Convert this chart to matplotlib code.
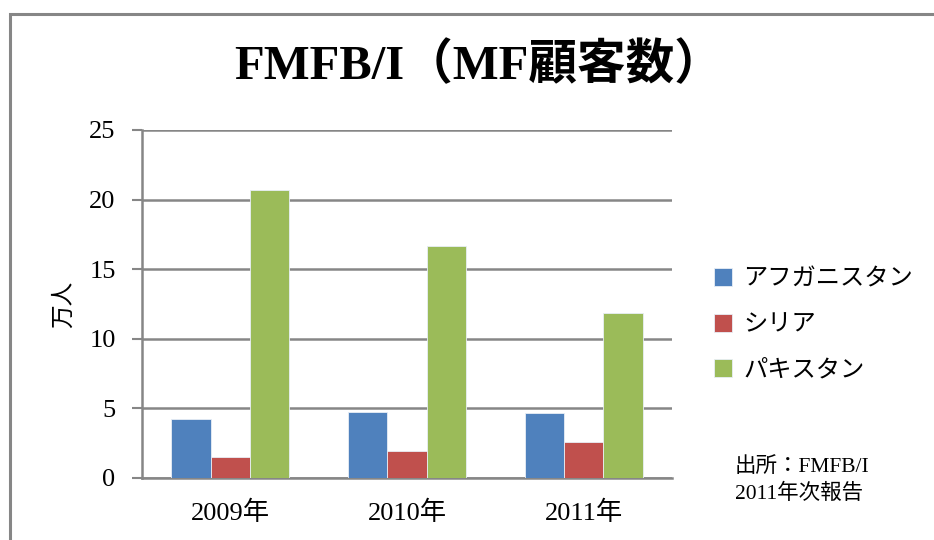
import matplotlib.pyplot as plt
import numpy as np
from matplotlib.patches import Rectangle

plt.rcParams['font.family'] = ['Liberation Serif', 'Noto Sans CJK JP', 'DejaVu Sans']

# データ（単位：万人）
years = ['2009年', '2010年', '2011年']
afghanistan = [4.25, 4.73, 4.7]
syria = [1.52, 1.94, 2.6]
pakistan = [20.7, 16.67, 11.87]
series_names = ['アフガニスタン', 'シリア', 'パキスタン']
colors = ['#4F81BD', '#C0504D', '#9BBB59']
grid_color = '#868686'

fig = plt.figure(figsize=(9.34, 5.40), dpi=100)
ax = fig.add_axes([142/934, 1 - 478/540, 530/934, 348/540])

x = np.arange(len(years))
w = 1 / 4.5
for i, (vals, name, c) in enumerate(zip([afghanistan, syria, pakistan], series_names, colors)):
    ax.bar(x + (i - 1) * w, vals, width=w, color=c, edgecolor='#e8eef6', linewidth=0.6,
           label=name, zorder=3)

ax.set_xlim(-0.5, 2.5)
ax.set_ylim(0, 25)
ax.set_yticks(range(0, 26, 5))
ax.set_xticks(x)
ax.set_xticklabels(years, fontsize=19)
ax.tick_params(axis='y', labelsize=19, length=7, width=1.5, color=grid_color, pad=12)
ax.tick_params(axis='x', length=0, pad=16)
ax.yaxis.grid(True, color=grid_color, linewidth=1.8, zorder=0)
ax.set_axisbelow(True)
for s in ['top', 'right']:
    ax.spines[s].set_visible(False)
for s in ['left', 'bottom']:
    ax.spines[s].set_color(grid_color)
    ax.spines[s].set_linewidth(1.8)

ax.set_ylabel('万人', fontsize=17, labelpad=10)

fig.text(479/934, 1 - 66/540, 'FMFB/I（MF顧客数）', ha='center', va='center',
         fontsize=35, fontweight='bold')

fig.legend(loc='center left', bbox_to_anchor=(692/934, 1 - 325/540), frameon=False,
           fontsize=17.5, handlelength=0.75, handleheight=0.75, handletextpad=0.45,
           labelspacing=0.95)

fig.text(735/934, 1 - 467/540, '出所：FMFB/I', ha='left', va='center', fontsize=15.5)
fig.text(735/934, 1 - 494/540, '2011年次報告', ha='left', va='center', fontsize=15.5)

# 外枠
fig.patches.append(Rectangle((10/934, -0.1), 1.0, 1.1 - 14/540,
                             transform=fig.transFigure, fill=False,
                             edgecolor=grid_color, linewidth=2.2))

fig.savefig('out.png', dpi=100, facecolor='white')
